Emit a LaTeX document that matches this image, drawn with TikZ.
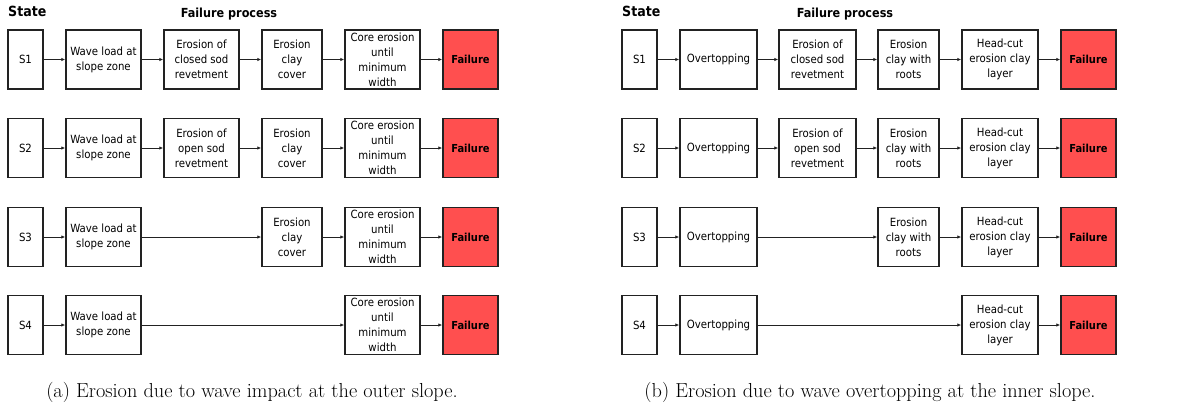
\documentclass[tikz,border=0pt]{standalone}
\usepackage{fontspec}
\usetikzlibrary{arrows.meta}
\newfontfamily\boxfont{DejaVu Sans Condensed}
\definecolor{failred}{HTML}{FF4F4F}
\definecolor{boxline}{HTML}{222222}
\begin{document}
\begin{tikzpicture}[x=1pt,y=-1pt,
  box/.style={draw=boxline,line width=1.5pt,rectangle,inner sep=0pt,align=center,
    minimum height=59pt,font=\boxfont\fontsize{11.3}{15}\selectfont},
  fail/.style={box,fill=failred,minimum width=55pt,font=\boxfont\bfseries\fontsize{11}{14}\selectfont},
  arr/.style={draw=boxline,line width=0.9pt,-{Latex[length=4pt,width=3.5pt]}},
  hdr/.style={font=\boxfont\bfseries\fontsize{14}{16}\selectfont,inner sep=0pt},
  hdrb/.style={font=\boxfont\bfseries\fontsize{12.5}{15}\selectfont,inner sep=0pt},
  captext/.style={font=\fontsize{20.3}{22}\selectfont,inner sep=0pt}]
\useasboundingbox (0,0) rectangle (1194,410);

% ---------- panel (a) ----------
\node[hdr,anchor=west] (aState) at (8,11) {State};
\node[hdrb] (aFP) at (229,14) {Failure process};

% row 1
\node[box,minimum width=35pt] (as1) at (25.5,59.5) {S1};
\node[box,minimum width=75pt] (aw1) at (103.5,59.5) {Wave load at\\slope zone};
\node[box,minimum width=75pt] (ae1) at (201.5,59.5) {Erosion of\\closed sod\\revetment};
\node[box,minimum width=60pt] (ac1) at (292,59.5) {Erosion\\clay\\cover};
\node[box,minimum width=75pt] (ak1) at (382.5,59.5) {Core erosion\\until\\minimum\\width};
\node[fail] (af1) at (470.5,59.5) {Failure};
\draw[arr] (as1) -- (aw1); \draw[arr] (aw1) -- (ae1); \draw[arr] (ae1) -- (ac1);
\draw[arr] (ac1) -- (ak1); \draw[arr] (ak1) -- (af1);

% row 2
\node[box,minimum width=35pt] (as2) at (25.5,148) {S2};
\node[box,minimum width=75pt] (aw2) at (103.5,148) {Wave load at\\slope zone};
\node[box,minimum width=75pt] (ae2) at (201.5,148) {Erosion of\\open sod\\revetment};
\node[box,minimum width=60pt] (ac2) at (292,148) {Erosion\\clay\\cover};
\node[box,minimum width=75pt] (ak2) at (382.5,148) {Core erosion\\until\\minimum\\width};
\node[fail] (af2) at (470.5,148) {Failure};
\draw[arr] (as2) -- (aw2); \draw[arr] (aw2) -- (ae2); \draw[arr] (ae2) -- (ac2);
\draw[arr] (ac2) -- (ak2); \draw[arr] (ak2) -- (af2);

% row 3
\node[box,minimum width=35pt] (as3) at (25.5,237) {S3};
\node[box,minimum width=75pt] (aw3) at (103.5,237) {Wave load at\\slope zone};
\node[box,minimum width=60pt] (ac3) at (292,237) {Erosion\\clay\\cover};
\node[box,minimum width=75pt] (ak3) at (382.5,237) {Core erosion\\until\\minimum\\width};
\node[fail] (af3) at (470.5,237) {Failure};
\draw[arr] (as3) -- (aw3); \draw[arr] (aw3) -- (ac3);
\draw[arr] (ac3) -- (ak3); \draw[arr] (ak3) -- (af3);

% row 4
\node[box,minimum width=35pt] (as4) at (25.5,325) {S4};
\node[box,minimum width=75pt] (aw4) at (103.5,325) {Wave load at\\slope zone};
\node[box,minimum width=75pt] (ak4) at (382.5,325) {Core erosion\\until\\minimum\\width};
\node[fail] (af4) at (470.5,325) {Failure};
\draw[arr] (as4) -- (aw4); \draw[arr] (aw4) -- (ak4); \draw[arr] (ak4) -- (af4);

\node[captext] (acap) at (252,392) {(a) Erosion due to wave impact at the outer slope.};

% ---------- panel (b) ----------
\node[hdr,anchor=west] (bState) at (622,11) {State};
\node[hdrb] (bFP) at (845,14) {Failure process};

% row 1
\node[box,minimum width=35pt] (bs1) at (639.5,59.5) {S1};
\node[box,minimum width=77pt] (bo1) at (718.5,59.5) {Overtopping};
\node[box,minimum width=77pt] (be1) at (817.5,59.5) {Erosion of\\closed sod\\revetment};
\node[box,minimum width=61pt] (br1) at (908.5,59.5) {Erosion\\clay with\\roots};
\node[box,minimum width=76pt] (bh1) at (1000,59.5) {Head-cut\\erosion clay\\layer};
\node[fail] (bf1) at (1088.5,59.5) {Failure};
\draw[arr] (bs1) -- (bo1); \draw[arr] (bo1) -- (be1); \draw[arr] (be1) -- (br1);
\draw[arr] (br1) -- (bh1); \draw[arr] (bh1) -- (bf1);

% row 2
\node[box,minimum width=35pt] (bs2) at (639.5,148) {S2};
\node[box,minimum width=77pt] (bo2) at (718.5,148) {Overtopping};
\node[box,minimum width=77pt] (be2) at (817.5,148) {Erosion of\\open sod\\revetment};
\node[box,minimum width=61pt] (br2) at (908.5,148) {Erosion\\clay with\\roots};
\node[box,minimum width=76pt] (bh2) at (1000,148) {Head-cut\\erosion clay\\layer};
\node[fail] (bf2) at (1088.5,148) {Failure};
\draw[arr] (bs2) -- (bo2); \draw[arr] (bo2) -- (be2); \draw[arr] (be2) -- (br2);
\draw[arr] (br2) -- (bh2); \draw[arr] (bh2) -- (bf2);

% row 3
\node[box,minimum width=35pt] (bs3) at (639.5,237) {S3};
\node[box,minimum width=77pt] (bo3) at (718.5,237) {Overtopping};
\node[box,minimum width=61pt] (br3) at (908.5,237) {Erosion\\clay with\\roots};
\node[box,minimum width=76pt] (bh3) at (1000,237) {Head-cut\\erosion clay\\layer};
\node[fail] (bf3) at (1088.5,237) {Failure};
\draw[arr] (bs3) -- (bo3); \draw[arr] (bo3) -- (br3);
\draw[arr] (br3) -- (bh3); \draw[arr] (bh3) -- (bf3);

% row 4
\node[box,minimum width=35pt] (bs4) at (639.5,325) {S4};
\node[box,minimum width=77pt] (bo4) at (718.5,325) {Overtopping};
\node[box,minimum width=76pt] (bh4) at (1000,325) {Head-cut\\erosion clay\\layer};
\node[fail] (bf4) at (1088.5,325) {Failure};
\draw[arr] (bs4) -- (bo4); \draw[arr] (bo4) -- (bh4); \draw[arr] (bh4) -- (bf4);

\node[captext] (bcap) at (870,392) {(b) Erosion due to wave overtopping at the inner slope.};
\end{tikzpicture}
\end{document}
